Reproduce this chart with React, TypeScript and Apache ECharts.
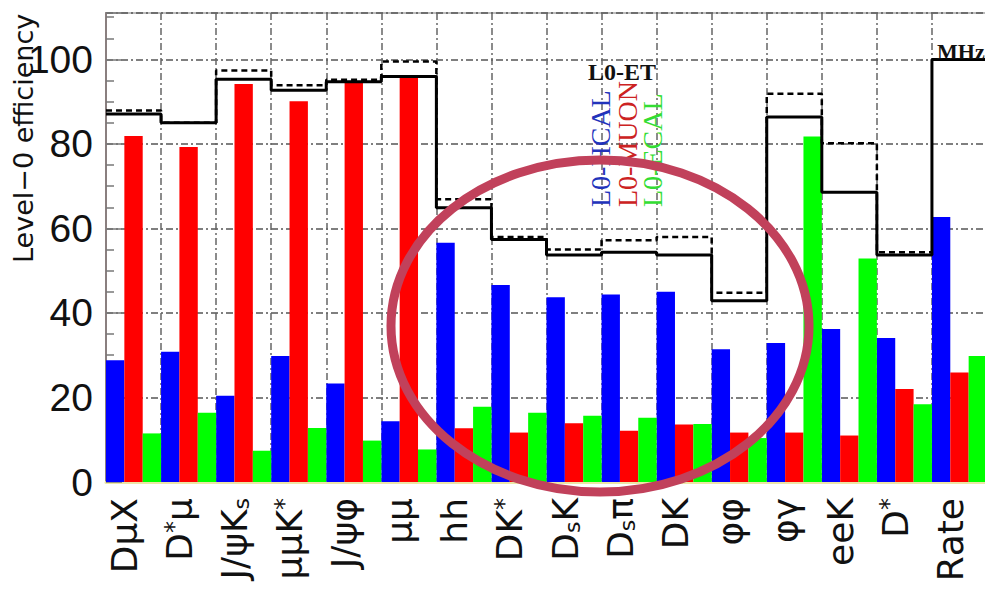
import React, { useEffect, useRef } from "react";
import * as echarts from "echarts";

// ---- data ----
const categories = ["DμX", "D*μ", "J/ψKs", "μμK*", "J/ψφ", "μμ", "hh", "DK*", "DsK", "Dsπ", "DK", "φφ", "φγ", "eeK", "D*", "Rate"];
const hcal = [28.8, 30.8, 20.4, 29.8, 23.3, 14.4, 56.6, 46.6, 43.7, 44.4, 45.0, 31.4, 32.9, 36.2, 34.1, 62.7];
const muon = [81.9, 79.3, 94.2, 90.1, 94.6, 96.2, 12.7, 11.7, 13.9, 12.1, 13.6, 11.7, 11.7, 11.0, 22.0, 25.9];
const ecal = [11.5, 16.4, 7.4, 12.8, 9.8, 7.7, 17.8, 16.4, 15.7, 15.2, 13.7, 10.4, 81.8, 52.9, 18.4, 29.8];
const totalSolid = [87.1, 85.0, 95.3, 92.7, 94.7, 96.0, 64.9, 57.4, 53.7, 54.4, 53.7, 42.9, 86.4, 68.6, 53.7, 100];
const totalDashed = [87.9, 85.0, 97.4, 93.9, 95.2, 99.5, 66.9, 58.0, 55.0, 57.2, 58.0, 44.8, 91.9, 80.2, 54.4];
const yTicks = { min: 0, max: 111, interval: 20 };

function stepPoints(vals: number[]) {
  const pts: number[][] = vals.map((v, i) => [i, v]);
  pts.push([vals.length, vals[vals.length - 1]]);
  return pts;
}

// subscript "s" in Ks / Ds, superscript "*"
function fmtLabel(s: string) {
  let out = "";
  for (let i = 0; i < s.length; i++) {
    const c = s[i];
    if (c === "*") out += "{p|*}";
    else if (c === "s" && i > 0 && (s[i - 1] === "K" || s[i - 1] === "D")) out += "{s|s}";
    else out += "{n|" + c + "}";
  }
  return out;
}

const gridDash = [7, 3, 2, 3];

export default function App() {
  const ref = useRef<HTMLDivElement>(null);
  useEffect(() => {
    const chart = echarts.init(ref.current!, null, { renderer: "svg" });
    const option: any = {
      animation: false,
      backgroundColor: "#ffffff",
      grid: {
        left: 106,
        top: 13,
        width: 881,
        height: 469,
        show: true,
        borderColor: "#bbbbbb",
        borderWidth: 2,
        backgroundColor: "transparent",
        containLabel: false,
        outerBoundsMode: "none",
      },
      xAxis: [
        {
          type: "category",
          data: categories,
          boundaryGap: true,
          axisLine: { show: true, lineStyle: { color: "#ece6a6", width: 3 } },
          axisTick: { show: false },
          axisLabel: {
            rotate: 90,
            margin: 16,
            interval: 0,
            padding: [0, 0, 18, 0],
            formatter: (v: string) => fmtLabel(v),
            rich: {
              n: { fontFamily: "DejaVu Sans", fontSize: 36, color: "#111" },
              s: { fontFamily: "DejaVu Sans", fontSize: 22, color: "#111", verticalAlign: "bottom" },
              p: { fontFamily: "DejaVu Sans", fontSize: 24, color: "#111", verticalAlign: "top" },
            },
          },
          splitLine: { show: true, interval: 0, lineStyle: { color: "#666", width: 1.5, type: gridDash } },
        },
        { type: "value", min: 0, max: categories.length, show: false },
      ],
      yAxis: {
        type: "value",
        min: yTicks.min,
        max: yTicks.max,
        interval: yTicks.interval,
        axisLine: { show: true, lineStyle: { color: "#8a7f7f", width: 2 } },
        axisTick: { show: true, inside: true, length: 16, lineStyle: { color: "#777", width: 1.5 } },
        minorTick: { show: true, splitNumber: 4, length: 8, lineStyle: { color: "#777", width: 1.5 } },
        axisLabel: {
          fontFamily: "Liberation Sans",
          fontSize: 39,
          color: "#111",
          margin: 13,
          showMaxLabel: false,
        },
        splitLine: { show: true, lineStyle: { color: "#555", width: 1.5, type: gridDash } },
      },
      series: [
        { name: "L0-HCAL", type: "bar", data: hcal, itemStyle: { color: "#0000ff" }, barGap: "0%", barCategoryGap: "0%", z: 2 },
        { name: "L0-MUON", type: "bar", data: muon, itemStyle: { color: "#ff0000" }, barGap: "0%", barCategoryGap: "0%", z: 2 },
        { name: "L0-ECAL", type: "bar", data: ecal, itemStyle: { color: "#00ff00" }, barGap: "0%", barCategoryGap: "0%", z: 2 },
        {
          name: "L0-ET dashed",
          type: "line",
          xAxisIndex: 1,
          step: "end",
          data: stepPoints(totalDashed),
          symbol: "none",
          lineStyle: { color: "#000", width: 2.5, type: [6, 4] },
          z: 3,
        },
        {
          name: "L0-ET",
          type: "line",
          xAxisIndex: 1,
          step: "end",
          data: stepPoints(totalSolid),
          symbol: "none",
          lineStyle: { color: "#000", width: 3 },
          z: 4,
        },
      ],
      graphic: [
        {
          type: "text",
          x: 23,
          y: 263,
          rotation: Math.PI / 2,
          style: { text: "Level−0 efficiency", fontFamily: "DejaVu Sans", fontSize: 27, fill: "#111", align: "left", verticalAlign: "middle" },
          z: 50,
        },
        {
          type: "text",
          x: 588,
          y: 72,
          style: { text: "L0-ET", fontFamily: "Liberation Serif", fontWeight: "bold", fontSize: 24, fill: "#111", align: "left", verticalAlign: "middle" },
          z: 50,
        },
        {
          type: "text",
          x: 600,
          y: 207,
          rotation: Math.PI / 2,
          style: { text: "L0-HCAL", fontFamily: "Liberation Serif", fontSize: 28, fill: "#2233bb", align: "left", verticalAlign: "middle" },
          z: 50,
        },
        {
          type: "text",
          x: 627,
          y: 207,
          rotation: Math.PI / 2,
          style: { text: "L0-MUON", fontFamily: "Liberation Serif", fontSize: 28, fill: "#cc2222", align: "left", verticalAlign: "middle" },
          z: 50,
        },
        {
          type: "text",
          x: 652,
          y: 207,
          rotation: Math.PI / 2,
          style: { text: "L0-ECAL", fontFamily: "Liberation Serif", fontSize: 28, fill: "#33dd33", align: "left", verticalAlign: "middle" },
          z: 50,
        },
        {
          type: "text",
          x: 937,
          y: 40,
          style: { text: "MHz", fontFamily: "Liberation Serif", fontWeight: "bold", fontSize: 22, fill: "#111", align: "left", verticalAlign: "top" },
          z: 50,
        },
        {
          type: "ellipse",
          shape: { cx: 600, cy: 326, rx: 209, ry: 166 },
          style: { fill: "none", stroke: "#c1415b", lineWidth: 9 },
          z: 100,
        },
      ],
    };
    chart.setOption(option);
    return () => chart.dispose();
  }, []);
  return <div ref={ref} style={{ position: "absolute", left: 0, top: 0, width: 985, height: 609, background: "#fff" }} />;
}
